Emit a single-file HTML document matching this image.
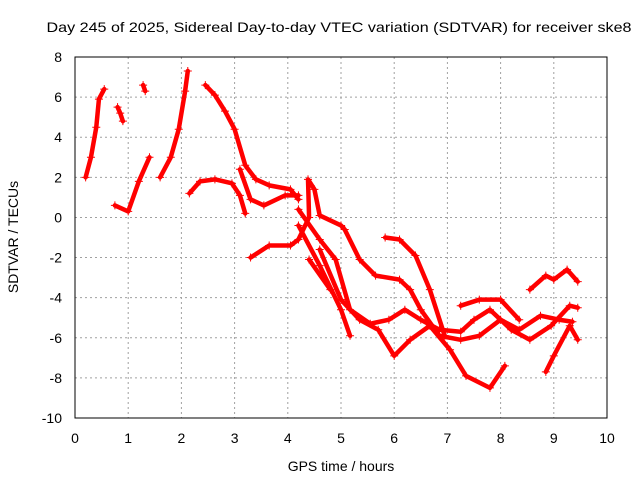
<!DOCTYPE html>
<html><head><meta charset="utf-8"><style>
body{margin:0;background:#fff}
svg text{font-family:"Liberation Sans",sans-serif;font-size:14px;fill:#000}
</style></head><body>
<svg id="chart" width="640" height="480" xmlns="http://www.w3.org/2000/svg">
<rect width="640" height="480" fill="#fff"/>
<text x="339" y="32" text-anchor="middle" textLength="585" lengthAdjust="spacingAndGlyphs">Day 245 of 2025, Sidereal Day-to-day VTEC variation (SDTVAR) for receiver ske8</text>
<text x="341" y="471" text-anchor="middle">GPS time / hours</text>
<text transform="translate(18,237) rotate(-90)" text-anchor="middle">SDTVAR / TECUs</text>
<g id="grid"></g><g id="ticks"></g><g id="series"></g>
<rect x="75" y="57" width="532" height="361" fill="none" stroke="#000" stroke-width="1"/>
</svg>
<script>
const xTicks=[0,1,2,3,4,5,6,7,8,9,10];
const yTicks=[8,6,4,2,0,-2,-4,-6,-8,-10];
const trackA=[[0.2,2],[0.3,3],[0.4,4.5],[0.45,5.9],[0.55,6.4]];
const trackB=[[0.8,5.5],[0.85,5.2],[0.9,4.8]];
const trackB2=[[0.75,0.6],[1.0,0.3],[1.2,1.8],[1.4,3]];
const trackB3=[[1.28,6.6],[1.32,6.3]];
const trackB4=[[1.6,2],[1.8,3],[1.95,4.4],[2.07,6.3],[2.12,7.3]];
const trackMain=[[2.45,6.6],[2.63,6.1],[2.82,5.3],[3.0,4.4],[3.2,2.6],[3.4,1.9],[3.65,1.6],[4.05,1.4],[4.2,0.9]];
const trackLow=[[2.15,1.2],[2.35,1.8],[2.63,1.9],[2.95,1.7],[3.1,1.1],[3.2,0.2]];
const trackMid=[[3.1,2.4],[3.3,0.9],[3.55,0.6],[3.95,1.1],[4.2,1.1]];
const trackC=[[3.3,-2],[3.65,-1.4],[4.05,-1.4],[4.2,-1.1],[4.4,0],[4.38,1.9],[4.5,1.4],[4.6,0.1],[5.0,-0.4],[5.07,-0.6],[5.35,-2.1],[5.65,-2.9],[6.1,-3.1],[6.3,-3.6],[6.5,-4.6],[6.85,-5.9],[7.25,-6.1],[7.6,-5.9],[8.0,-5.1],[8.35,-5.6],[8.75,-4.9],[9.1,-5.1],[9.35,-5.2]];
const trackD=[[4.2,0.4],[4.6,-1.1],[4.9,-2.1],[5.17,-4.6],[5.55,-5.3],[5.9,-5.1],[6.2,-4.6],[6.5,-5.1],[6.85,-5.6],[7.25,-5.7],[7.5,-5.1],[7.8,-4.6],[8.2,-5.6],[8.55,-6.1],[8.95,-5.4],[9.3,-4.4],[9.45,-4.5]];
const trackE=[[4.2,-0.4],[4.6,-2.4],[5.0,-4.6],[5.17,-5.9]];
const trackF=[[4.4,-2.1],[4.8,-3.6]];
const trackG=[[4.6,-1.6],[5.0,-4.1],[5.35,-5.1],[5.7,-5.6],[6.0,-6.9],[6.3,-6.1],[6.67,-5.4],[7.05,-6.6],[7.35,-7.9],[7.8,-8.5],[8.08,-7.4]];
const trackH=[[5.83,-1.0],[6.1,-1.1],[6.4,-1.9],[6.67,-3.6],[6.95,-5.9]];
const trackI=[[7.25,-4.4],[7.6,-4.1],[8.0,-4.1],[8.35,-5.1]];
const trackJ=[[8.55,-3.6],[8.85,-2.9],[9.0,-3.1],[9.25,-2.6],[9.45,-3.2]];
const trackK=[[8.85,-7.7],[9.0,-6.9],[9.3,-5.4],[9.45,-6.1]];
const tracks=[trackA,trackB,trackB2,trackB3,trackB4,trackMain,trackLow,trackMid,trackC,trackD,trackE,trackF,trackG,trackH,trackI,trackJ,trackK];
const X0=75,X1=607,Y0=418,Y1=57;
const sx=t=>X0+(t-0)/(10-0)*(X1-X0);
const sy=v=>Y0-(v-(-10))/(8-(-10))*(Y0-Y1);
const NS="http://www.w3.org/2000/svg";
const mk=(tag,attrs,parent)=>{const e=document.createElementNS(NS,tag);for(const k in attrs)e.setAttribute(k,attrs[k]);parent.appendChild(e);return e;};
const grid=document.getElementById('grid'),ticks=document.getElementById('ticks'),ser=document.getElementById('series');
xTicks.forEach(t=>{
 const x=sx(t);
 if(t>0&&t<10){const g=mk('line',{x1:x,x2:x,y1:Y1,y2:Y0,stroke:'#a0a0a0','stroke-dasharray':'2,3'},grid);
 
 }
 const l=mk('text',{x:x,y:443,'text-anchor':'middle'},ticks);l.textContent=t;
 
 
});
yTicks.forEach(v=>{
 const y=sy(v);
 if(v>-10&&v<8){const g=mk('line',{x1:X0,x2:X1,y1:y,y2:y,stroke:'#a0a0a0','stroke-dasharray':'2,3'},grid);
 
 }
 const l=mk('text',{x:62,y:y+5,'text-anchor':'end'},ticks);l.textContent=v;
 
 
});
tracks.forEach((tr,i)=>{
 const p=mk('polyline',{points:tr.map(d=>sx(d[0])+','+sy(d[1])).join(' '),fill:'none',stroke:'#f00','stroke-width':4.5,'stroke-linejoin':'round','stroke-linecap':'round'},ser);
 
 
 tr.forEach(d=>{
  const x=sx(d[0]),y=sy(d[1]);
  const m=mk('path',{d:`M${x-4},${y}H${x+4}M${x},${y-4}V${y+4}`,stroke:'#f00','stroke-width':1},ser);
  
  
 });
});
</script>
</body></html>
